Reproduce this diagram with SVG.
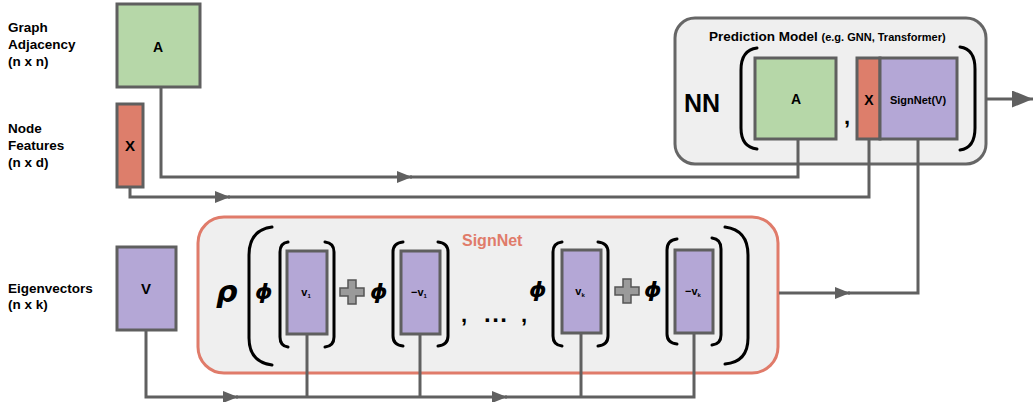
<svg xmlns="http://www.w3.org/2000/svg" width="1034" height="402" viewBox="0 0 1034 402">
<style>
text{font-family:"Liberation Sans",Arial,sans-serif;font-weight:bold;fill:#000}
.lbl{font-size:13.5px}
.node{stroke:#5f5f5f;stroke-width:3}
.g{fill:#b6d7a8}.r{fill:#dd7e6b}.p{fill:#b4a7d6}
.br{fill:none;stroke:#000;stroke-width:3;stroke-linecap:round}
.con{fill:none;stroke:#606060;stroke-width:3}
.greek{font-family:"DejaVu Sans",sans-serif;font-style:italic;font-weight:bold;fill:#000}
.plus{fill:#9a9a9a;stroke:#555;stroke-width:1.5}
.vl{font-size:11px;text-anchor:middle}
.sub{font-size:6px}
.c{text-anchor:middle}
</style>
<defs>
<marker id="ah" markerUnits="userSpaceOnUse" markerWidth="16" markerHeight="13" refX="15" refY="6" orient="auto"><path d="M0,0 L15,6 L0,12 z" fill="#606060"/></marker>
<marker id="ahbig" markerUnits="userSpaceOnUse" markerWidth="22" markerHeight="18" refX="21" refY="8.5" orient="auto"><path d="M0,0 L21,8.5 L0,17 z" fill="#606060"/></marker>
</defs>
<rect width="1034" height="402" fill="#fff"/>

<g id="labels">
<text class="lbl" x="8" y="32">Graph</text>
<text class="lbl" x="8" y="49">Adjacency</text>
<text class="lbl" x="8" y="66">(n x n)</text>
<text class="lbl" x="8" y="133">Node</text>
<text class="lbl" x="8" y="150">Features</text>
<text class="lbl" x="8" y="167">(n x d)</text>
<text class="lbl" x="8" y="293">Eigenvectors</text>
<text class="lbl" x="8" y="309">(n x k)</text>
</g>

<g id="nodeA">
<rect class="node g" x="117" y="4" width="83" height="83"/>
<text class="c" x="158" y="52" font-size="14">A</text>
</g>
<g id="nodeX">
<rect class="node r" x="117" y="104" width="26" height="83"/>
<text class="c" x="130" y="151" font-size="15">X</text>
</g>
<g id="nodeV">
<rect class="node p" x="117" y="247" width="59" height="83"/>
<text class="c" x="146" y="294" font-size="15">V</text>
</g>

<g id="prediction">
<rect x="675" y="18" width="311" height="146" rx="20" fill="#efefef" stroke="#666" stroke-width="3"/>
<text x="709" y="41" font-size="13.5">Prediction Model <tspan font-size="11">(e.g. GNN, Transformer)</tspan></text>
<text x="684" y="112" font-size="25">NN</text>
<path class="br" d="M757,48 Q741,50 741,70 L741,128 Q741,147 757,149"/>
<path class="br" d="M960,47 Q975,49 975,69 L975,128 Q975,148 960,150"/>
<rect class="node g" x="755" y="58" width="81" height="81"/>
<text class="c" x="796" y="104" font-size="14">A</text>
<text x="844" y="124" font-size="22">,</text>
<rect class="node r" x="857" y="58" width="23" height="81"/>
<text class="c" x="869" y="105" font-size="14">X</text>
<rect class="node p" x="880" y="58" width="77" height="81"/>
<text class="c" x="918" y="104" font-size="11">SignNet(V)</text>
</g>

<g id="signnet">
<rect x="198" y="217" width="580" height="156" rx="26" fill="#efefef" stroke="#e07b6a" stroke-width="3"/>
<text x="462" y="246" font-size="16" style="fill:#e07b6a">SignNet</text>
<text class="greek" x="216" y="302" font-size="30">ρ</text>
<path class="br" d="M272,227 Q249,230 249,255 L249,338 Q249,362 272,365"/>
<path class="br" d="M725,227 Q748,230 748,255 L748,338 Q748,362 725,364"/>

<text class="greek" x="255" y="299" font-size="22">ϕ</text>
<path class="br" d="M288,242 Q280,243 280,252 L280,337 Q280,346 288,347"/>
<path class="br" d="M325,242 Q334,243 334,252 L334,337 Q334,346 325,347"/>
<rect class="node p" x="287" y="251" width="40" height="83"/>
<text class="vl" x="306" y="296">v<tspan class="sub" dy="2">1</tspan></text>

<path class="plus" d="M348,280 h8 v8 h8 v8 h-8 v8 h-8 v-8 h-8 v-8 h8 z"/>
<text class="greek" x="370" y="299" font-size="22">ϕ</text>
<path class="br" d="M403,242 Q393,243 393,252 L393,336 Q393,345 403,346"/>
<path class="br" d="M438,242 Q448,243 448,252 L448,336 Q448,345 438,346"/>
<rect class="node p" x="401" y="251" width="39" height="83"/>
<text class="vl" x="419" y="296">−v<tspan class="sub" dy="2">1</tspan></text>

<text x="461" y="322" font-size="22">,</text>
<text x="484" y="322" font-size="24" letter-spacing="1.5">...</text>
<text x="521" y="322" font-size="22">,</text>

<text class="greek" x="529" y="297" font-size="22">ϕ</text>
<path class="br" d="M562,242 Q553,243 553,252 L553,336 Q553,345 562,346"/>
<path class="br" d="M598,242 Q608,243 608,252 L608,336 Q608,345 598,346"/>
<rect class="node p" x="562" y="250" width="39" height="83"/>
<text class="vl" x="580" y="295">v<tspan class="sub" dy="2">k</tspan></text>

<path class="plus" d="M623,279 h8 v8 h8 v8 h-8 v8 h-8 v-8 h-8 v-8 h8 z"/>
<text class="greek" x="644" y="297" font-size="22">ϕ</text>
<path class="br" d="M677,239 Q667,240 667,250 L667,334 Q667,343 677,344"/>
<path class="br" d="M712,238 Q721,239 721,249 L721,335 Q721,344 712,345"/>
<rect class="node p" x="675" y="250" width="38" height="83"/>
<text class="vl" x="693" y="295">−v<tspan class="sub" dy="2">k</tspan></text>
</g>

<g id="connectors">
<path class="con" d="M161,87 V177 H412" marker-end="url(#ah)"/>
<path class="con" d="M410,177 H798 V139"/>
<path class="con" d="M130,187 V197 H230" marker-end="url(#ah)"/>
<path class="con" d="M228,197 H869 V139"/>
<path class="con" d="M146,330 V397 H238" marker-end="url(#ah)"/>
<path class="con" d="M236,397 H507" marker-end="url(#ah)"/>
<path class="con" d="M505,397 H694 V333"/>
<path class="con" d="M307,334 V397"/>
<path class="con" d="M420,334 V397"/>
<path class="con" d="M581,333 V397"/>
<path class="con" d="M779,293 H850" marker-end="url(#ah)"/>
<path class="con" d="M848,293 H918 V139"/>
<path class="con" d="M986,99 H1033" marker-end="url(#ahbig)"/>
</g>
</svg>
